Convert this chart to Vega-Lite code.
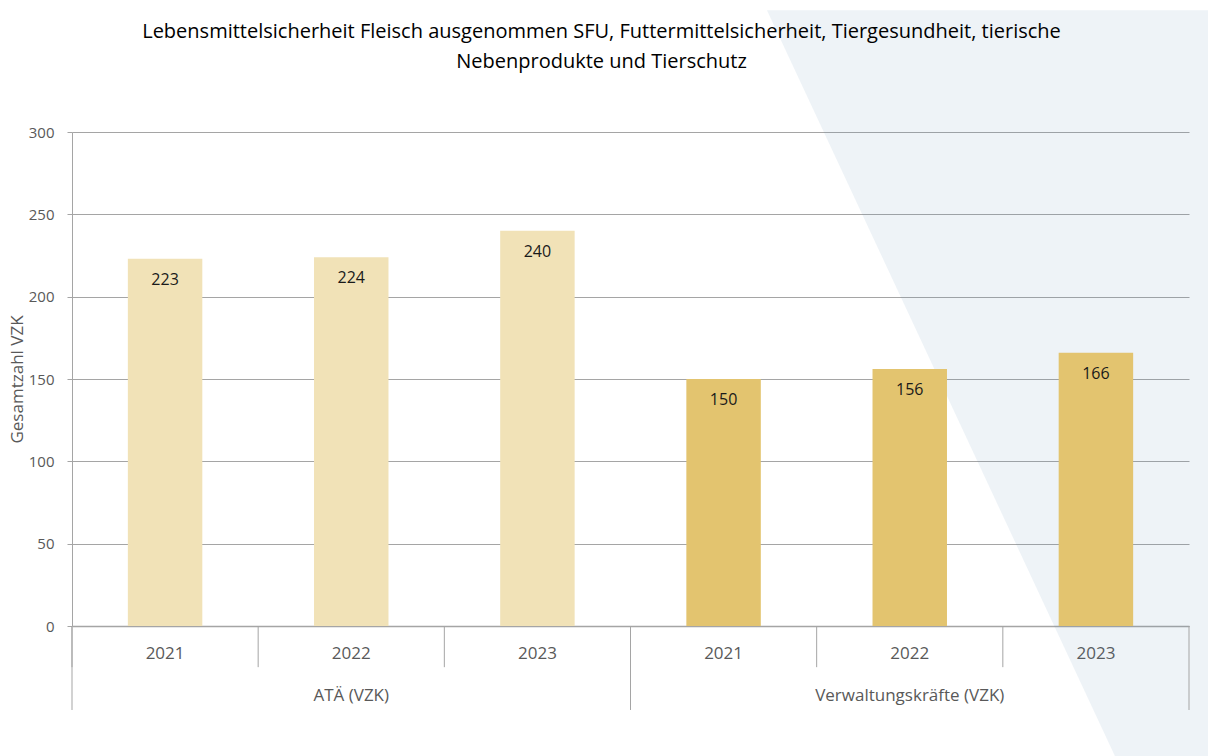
{
  "$schema": "https://vega.github.io/schema/vega-lite/v6.json",
  "autosize": {"type": "none"},
  "width": 1117,
  "height": 494,
  "padding": {"left": 72, "top": 132, "right": 19, "bottom": 130},
  "background": "white",
  "title": {
    "text": ["Lebensmittelsicherheit Fleisch ausgenommen SFU, Futtermittelsicherheit, Tiergesundheit, tierische", "Nebenprodukte und Tierschutz"],
    "font": "Open Sans",
    "fontSize": 20,
    "fontWeight": "normal",
    "color": "#000000",
    "lineHeight": 30,
    "anchor": "middle",
    "frame": "group",
    "dx": -29,
    "offset": -62
  },
  "config": {
    "view": {"stroke": null},
    "font": "Open Sans",
    "axisY": {
      "titleFontSize": 17,
      "titleFontWeight": "normal",
      "titleColor": "#595959",
      "titlePadding": 2,
      "labelFontSize": 15,
      "labelColor": "#595959",
      "labelPadding": 13,
      "tickSize": 5,
      "tickColor": "#A5A5A5",
      "domainColor": "#A5A5A5",
      "gridColor": "#A5A5A5",
      "grid": true
    }
  },
  "datasets": {
    "bars": [
      {"gruppe": "ATÄ (VZK)", "jahr": "2021", "key": "ATÄ (VZK)|2021", "wert": 223},
      {"gruppe": "ATÄ (VZK)", "jahr": "2022", "key": "ATÄ (VZK)|2022", "wert": 224},
      {"gruppe": "ATÄ (VZK)", "jahr": "2023", "key": "ATÄ (VZK)|2023", "wert": 240},
      {"gruppe": "Verwaltungskräfte (VZK)", "jahr": "2021", "key": "Verwaltungskräfte (VZK)|2021", "wert": 150},
      {"gruppe": "Verwaltungskräfte (VZK)", "jahr": "2022", "key": "Verwaltungskräfte (VZK)|2022", "wert": 156},
      {"gruppe": "Verwaltungskräfte (VZK)", "jahr": "2023", "key": "Verwaltungskräfte (VZK)|2023", "wert": 166}
    ],
    "bg": [
      {"yy": 374, "xx": 3.733},
      {"yy": -78.9, "xx": 5.602}
    ]
  },
  "resolve": {"scale": {"x": "independent"}, "axis": {"x": "independent"}},
  "layer": [
    {
      "data": {"name": "bg"},
      "mark": {"type": "area", "orient": "horizontal", "color": "#5587AF", "opacity": 0.1, "clip": false},
      "encoding": {
        "y": {
          "field": "yy", "type": "quantitative",
          "scale": {"domain": [0, 300], "nice": false},
          "axis": {"title": "Gesamtzahl VZK", "values": [0, 50, 100, 150, 200, 250, 300]}
        },
        "x": {"field": "xx", "type": "quantitative", "scale": {"domain": [0, 6], "nice": false, "zero": false}, "axis": null},
        "x2": {"datum": 6.102}
      }
    },
    {
      "data": {"name": "bars"},
      "layer": [
        {
          "mark": {"type": "bar", "width": {"band": 0.4}},
          "encoding": {
            "x": {
              "field": "key", "type": "nominal", "sort": null,
              "scale": {"paddingInner": 0, "paddingOuter": 0},
              "axis": {
                "title": null,
                "orient": "bottom",
                "ticks": false,
                "domain": true,
                "domainColor": "#A5A5A5",
                "domainWidth": 1.5,
                "labelAngle": 0,
                "labelFontSize": 17,
                "labelColor": "#595959",
                "labelPadding": 19,
                "labelLineHeight": 42,
                "labelLimit": 0,
                "labelExpr": "[split(datum.value, '|')[1], indexof(datum.value, '2022') >= 0 ? split(datum.value, '|')[0] : '']"
              }
            },
            "y": {
              "field": "wert", "type": "quantitative",
              "scale": {"domain": [0, 300], "nice": false},
              "axis": {"title": "Gesamtzahl VZK", "values": [0, 50, 100, 150, 200, 250, 300]}
            },
            "color": {
              "field": "gruppe", "type": "nominal",
              "scale": {"domain": ["ATÄ (VZK)", "Verwaltungskräfte (VZK)"], "range": ["#F1E2B7", "#E3C46F"]},
              "legend": null
            }
          }
        },
        {
          "mark": {"type": "text", "baseline": "top", "dy": 13, "fontSize": 16, "color": "#1a1a1a", "font": "Open Sans"},
          "encoding": {
            "x": {"field": "key", "type": "nominal", "sort": null},
            "y": {"field": "wert", "type": "quantitative"},
            "text": {"field": "wert", "type": "quantitative"}
          }
        },
        {
          "mark": {"type": "rule", "color": "#A5A5A5", "strokeWidth": 1},
          "encoding": {
            "x": {"field": "key", "type": "nominal", "sort": null, "bandPosition": 0},
            "y": {"datum": 0},
            "y2": {"datum": -25}
          }
        },
        {
          "transform": [{"filter": "datum.jahr == '2021'"}],
          "mark": {"type": "rule", "color": "#A5A5A5", "strokeWidth": 1},
          "encoding": {
            "x": {"field": "key", "type": "nominal", "sort": null, "bandPosition": 0},
            "y": {"datum": 0},
            "y2": {"datum": -51}
          }
        },
        {
          "transform": [{"filter": "datum.key == 'Verwaltungskräfte (VZK)|2023'"}],
          "mark": {"type": "rule", "color": "#A5A5A5", "strokeWidth": 1},
          "encoding": {
            "x": {"field": "key", "type": "nominal", "sort": null, "bandPosition": 1},
            "y": {"datum": 0},
            "y2": {"datum": -51}
          }
        }
      ]
    }
  ]
}
